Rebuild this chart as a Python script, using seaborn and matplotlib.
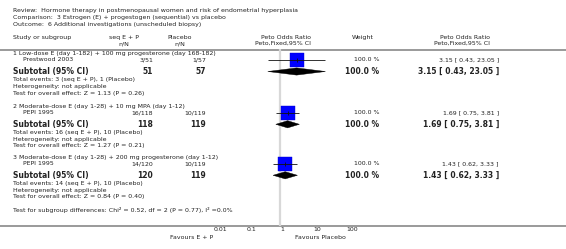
import matplotlib
matplotlib.use("Agg")
import matplotlib.pyplot as plt
import seaborn as sns
import numpy as np
import pandas as pd
from matplotlib.patches import Polygon

# ---------------- data ----------------
review = "Hormone therapy in postmenopausal women and risk of endometrial hyperplasia"
comparison = "3 Estrogen (E) + progestogen (sequential) vs placebo"
outcome = "6 Additional investigations (unscheduled biopsy)"
subgroups = [
    "1 Low-dose E (day 1-182) + 100 mg progesterone (day 168-182)",
    "2 Moderate-dose E (day 1-28) + 10 mg MPA (day 1-12)",
    "3 Moderate-dose E (day 1-28) + 200 mg progesterone (day 1-12)",
]
studies = ["Prestwood 2003", "PEPI 1995", "PEPI 1995"]
events_tx = [3, 16, 14]
total_tx = [51, 118, 120]
events_ctl = [1, 10, 10]
total_ctl = [57, 119, 119]
weights = [100.0, 100.0, 100.0]
or_est = [3.15, 1.69, 1.43]
ci_low = [0.43, 0.75, 0.62]
ci_high = [23.05, 3.81, 3.33]
z_vals = [1.13, 1.27, 0.84]
p_vals = [0.26, 0.21, 0.40]
subgroup_test = "Test for subgroup differences: Chi\u00b2 = 0.52, df = 2 (P = 0.77), I\u00b2 =0.0%"
xticks = [0.01, 0.1, 1, 10, 100]
xticklabels = ["0.01", "0.1", "1", "10", "100"]
tx_label = "seq E + P"
ctl_label = "Placebo"

# ---------------- layout ----------------
W, H = 566, 249
sns.set_style("white")
plt.rcParams["font.family"] = ["DejaVu Sans"]
fig = plt.figure(figsize=(W / 100, H / 100), dpi=100)
ax = fig.add_axes([0, 0, 1, 1])
ax.set_xlim(0, W)
ax.set_ylim(H, 0)
ax.axis("off")

TXT = "#222222"
fs = 4.5
fsb = 5.5

def t(x, y, s, ha="left", bold=False, size=None):
    ax.text(x, y, s, ha=ha, va="center", color=TXT,
            fontsize=size if size else (fsb if bold else fs),
            fontweight="bold" if bold else "normal")

# title
t(13, 10.5, "Review:  " + review)
t(13, 17.5, "Comparison:  " + comparison)
t(13, 24.5, "Outcome:  " + outcome)

# headers
t(13, 37.5, "Study or subgroup")
t(124, 37.5, tx_label, ha="center")
t(124, 43.5, "n/N", ha="center")
t(180, 37.5, ctl_label, ha="center")
t(180, 43.5, "n/N", ha="center")
t(311, 37.5, "Peto Odds Ratio", ha="right")
t(311, 43.5, "Peto,Fixed,95% CI", ha="right")
t(352, 37.5, "Weight")
t(490, 37.5, "Peto Odds Ratio", ha="right")
t(490, 43.5, "Peto,Fixed,95% CI", ha="right")

ax.plot([0, W], [49.5, 49.5], color="#9a9a9a", lw=1.4, solid_capstyle="butt")
ax.plot([0, W], [225.5, 225.5], color="#9a9a9a", lw=1.4, solid_capstyle="butt")

bases = [53.5, 106.3, 157.3]
sq_y, dm_y = [], []
for i, b in enumerate(bases):
    t(13, b, subgroups[i])
    t(23, b + 6.3, studies[i])
    t(153, b + 6.3, f"{events_tx[i]}/{total_tx[i]}", ha="right")
    t(206, b + 6.3, f"{events_ctl[i]}/{total_ctl[i]}", ha="right")
    t(379, b + 6.3, f"{weights[i]:.1f} %", ha="right")
    t(499, b + 6.3, f"{or_est[i]:.2f} [ {ci_low[i]:.2f}, {ci_high[i]:.2f} ]", ha="right")
    t(13, b + 18.0, "Subtotal (95% CI)", bold=True)
    t(153, b + 18.0, f"{total_tx[i]}", ha="right", bold=True)
    t(206, b + 18.0, f"{total_ctl[i]}", ha="right", bold=True)
    t(379, b + 18.0, f"{weights[i]:.1f} %", ha="right", bold=True)
    t(499, b + 18.0, f"{or_est[i]:.2f} [ {ci_low[i]:.2f}, {ci_high[i]:.2f} ]", ha="right", bold=True)
    t(13, b + 25.8, f"Total events: {events_tx[i]} ({tx_label}), {events_ctl[i]} ({ctl_label})")
    t(13, b + 32.8, "Heterogeneity: not applicable")
    t(13, b + 39.5, f"Test for overall effect: Z = {z_vals[i]:.2f} (P = {p_vals[i]:.2f})")
    sq_y.append(b + 6.5)
    dm_y.append(b + 18.0)

t(13, 210, subgroup_test)
t(213, 237.5, "Favours E + P", ha="right")
t(346, 237.5, "Favours Placebo", ha="right")

# ---------------- forest ----------------
x0, x1 = 213.3, 346.7
ytop, ybot = 49.5, 225.5
fax = fig.add_axes([x0 / W, (H - ybot) / H, (x1 - x0) / W, (ybot - ytop) / H])
fax.set_xscale("log")
fax.set_xlim(0.01, 100)
fax.set_ylim(ybot, ytop)
fax.patch.set_alpha(0)
for s in fax.spines.values():
    s.set_visible(False)
fax.set_yticks([])
fax.set_xticks(xticks)
fax.set_xticklabels(xticklabels, ha="left")
fax.minorticks_off()
fax.tick_params(axis="x", direction="in", length=1.8, width=0.7, color="#333333",
                labelsize=4.5, labelcolor=TXT, pad=1.2)
fax.axvline(1, color="#d8d8d8", lw=1.6, zorder=0)

df = pd.DataFrame({"est": or_est, "lo": ci_low, "hi": ci_high, "y": sq_y})
sns.scatterplot(data=df, x="est", y="y", marker="s", s=88, color="#0000ff",
                edgecolor="#0000cc", linewidth=0.3, ax=fax, legend=False, zorder=2)
fax.hlines(df["y"], df["lo"], df["hi"], color="#111111", lw=0.6, zorder=3)
fax.vlines(df["est"], df["y"] - 2.2, df["y"] + 2.2, color="#111111", lw=0.6, zorder=3)
for i in range(len(or_est)):
    y = dm_y[i]
    poly = Polygon([(ci_low[i], y), (or_est[i], y - 3.6), (ci_high[i], y), (or_est[i], y + 3.6)],
                   closed=True, facecolor="black", edgecolor="black", lw=0.3, zorder=3)
    fax.add_patch(poly)
fax.set_xlabel("")
fax.set_ylabel("")

fig.savefig("out.png", dpi=100)
